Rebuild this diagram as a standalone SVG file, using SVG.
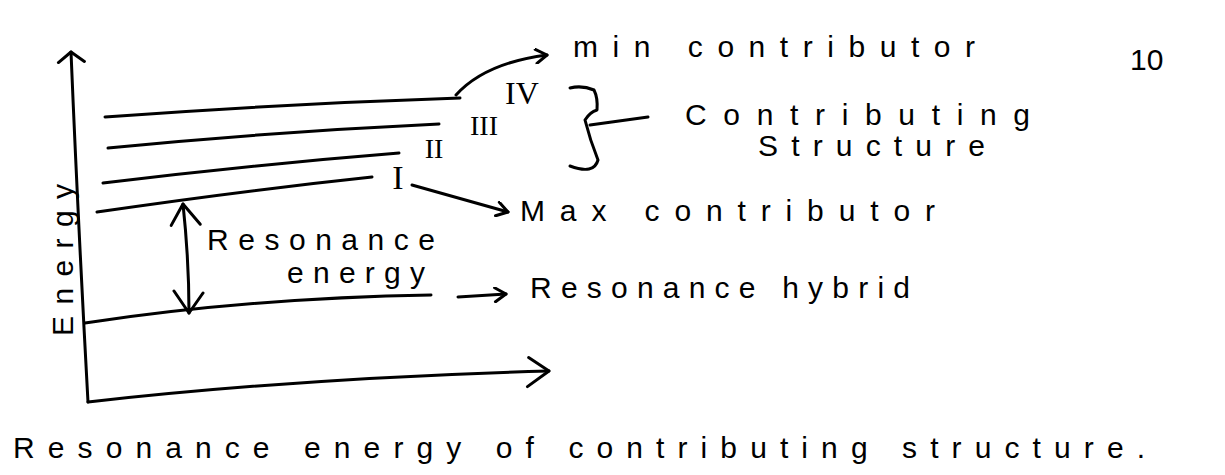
<svg xmlns="http://www.w3.org/2000/svg" width="1225" height="475" viewBox="0 0 1225 475">
<style>
.s{fill:none;stroke:#000;stroke-width:3;stroke-linecap:round;stroke-linejoin:round}
.t{font-family:"Liberation Sans",Arial,sans-serif;fill:#000;font-size:30px}
.r{font-family:"Liberation Serif","Times New Roman",serif;fill:#000;text-anchor:middle}
</style>
<defs>
<marker id="ah" markerWidth="16" markerHeight="16" refX="13" refY="8" orient="auto-start-reverse" markerUnits="userSpaceOnUse"><path d="M2,1 L13,8 L2,15" fill="none" stroke="#000" stroke-width="3" stroke-linecap="round" stroke-linejoin="round"/></marker>
<marker id="ahS" markerWidth="16" markerHeight="30" refX="13" refY="15" orient="auto-start-reverse" markerUnits="userSpaceOnUse"><path d="M3,2 L13,15 L3,28" fill="none" stroke="#000" stroke-width="3" stroke-linecap="round" stroke-linejoin="round"/></marker>
<marker id="ahL" markerWidth="30" markerHeight="34" refX="26" refY="17" orient="auto-start-reverse" markerUnits="userSpaceOnUse"><path d="M6,3 L26,17 L4,32" fill="none" stroke="#000" stroke-width="3" stroke-linecap="round" stroke-linejoin="round"/></marker>
</defs>
<rect width="1225" height="475" fill="#fff"/>
<g id="axes">
<path class="s" d="M88,402 Q78,220 71,52" marker-end="url(#ahS)"/>
<path class="s" d="M88,402 Q300,378 549,371" marker-end="url(#ahL)"/>
<text class="t" font-size="32" transform="translate(73,260) rotate(-90)" text-anchor="middle" textLength="152" lengthAdjust="spacing">Energy</text>
</g>
<g id="structure-IV">
<path class="s" d="M105,117 Q280,104 460,98"/>
<text class="r" x="522" y="104" font-size="32">IV</text>
</g>
<g id="structure-III">
<path class="s" d="M108,148 Q270,132 439,124"/>
<text class="r" x="484" y="135" font-size="28">III</text>
</g>
<g id="structure-II">
<path class="s" d="M103,183 Q250,165 399,153"/>
<text class="r" x="434" y="158" font-size="28">II</text>
</g>
<g id="structure-I">
<path class="s" d="M97,212 Q240,191 372,177"/>
<text class="r" x="398" y="189" font-size="34">I</text>
</g>
<g id="hybrid">
<path class="s" d="M85,323 Q250,298 431,295"/>
</g>
<g id="label-min">
<text class="t" x="573" y="57" textLength="402" lengthAdjust="spacing">min contributor</text>
</g>
<g id="label-contributing">
<text class="t" x="685" y="125" textLength="345" lengthAdjust="spacing">Contributing</text>
<text class="t" x="758" y="156" textLength="227" lengthAdjust="spacing">Structure</text>
</g>
<g id="label-max">
<text class="t" x="520" y="221" textLength="415" lengthAdjust="spacing">Max contributor</text>
</g>
<g id="label-resonance-energy">
<text class="t" font-size="28" x="207" y="250" textLength="228" lengthAdjust="spacing">Resonance</text>
<text class="t" font-size="26" x="287" y="283" textLength="138" lengthAdjust="spacing">energy</text>
</g>
<g id="label-hybrid">
<text class="t" x="530" y="298" textLength="380" lengthAdjust="spacing">Resonance hybrid</text>
</g>
<g id="title">
<text class="t" font-size="32" x="13" y="458" textLength="1132" lengthAdjust="spacing">Resonance energy of contributing structure.</text>
</g>
<g id="page-number">
<text class="t" font-size="32" x="1130" y="70">10</text>
</g>
<g id="connectors">
<path class="s" d="M456,95 Q485,63 547,55" marker-end="url(#ah)"/>
<path class="s" d="M412,185 L508,212" marker-end="url(#ah)"/>
<path class="s" d="M458,297 L506,294" marker-end="url(#ah)"/>
<path class="s" d="M183,204 Q189,260 189,313" marker-start="url(#ahL)" marker-end="url(#ahL)"/>
<path class="s" d="M570,88 Q582,85 594,90 Q598,98 597,110 Q590,112 585,120 Q590,140 598,160 Q594,175 570,166"/>
<path class="s" d="M590,125 L648,117"/>
</g>
</svg>
